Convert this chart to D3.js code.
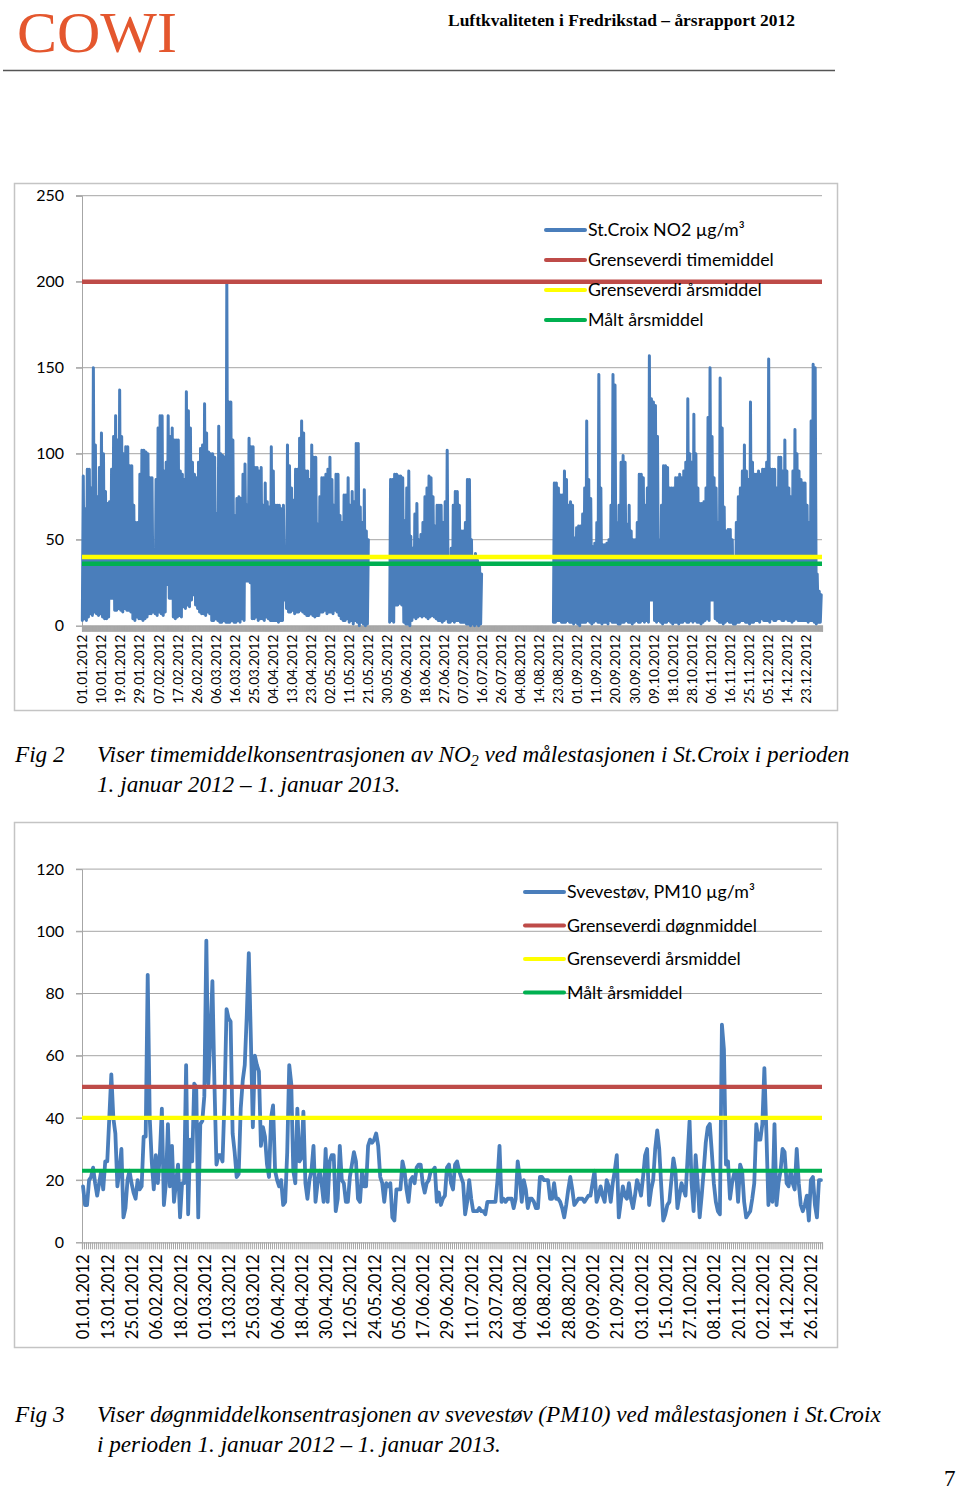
<!DOCTYPE html>
<html><head><meta charset="utf-8">
<script src="https://cdn.jsdelivr.net/npm/d3@7/dist/d3.min.js"></script>
<style>
body{margin:0;background:#fff;}
svg text{font-family:Lato,"Open Sans",sans-serif;fill:#000;}
</style></head><body>
<svg id="page" width="960" height="1490"></svg>
<script>
// ---------- DATA ----------
// Fig 2: NO2 hourly, summarised per day as daily maximum and daily minimum (µg/m³), null = no data
const no2DailyMax = [
87,68,91,91,80,150,105,75,92,
112,100,78,71,72,91,110,122,108,137,
110,100,104,104,93,93,70,60,60,88,
102,102,101,100,86,86,30,85,115,122,
122,90,95,122,110,115,108,108,108,90,
88,85,136,125,115,95,88,86,95,103,
105,129,112,101,100,100,98,65,116,100,
99,98,199,130,130,108,64,74,75,74,
88,94,70,109,104,104,92,92,90,92,
70,83,72,69,104,90,70,70,70,68,
70,37,105,93,80,73,91,91,109,119,
112,90,90,85,105,98,98,59,75,86,
86,88,91,98,85,70,88,88,64,60,
76,76,86,70,78,72,106,106,69,60,
79,55,50,
null,null,null,null,null,null,null,null,null,null,
85,85,88,88,87,87,86,
61,80,90,52,45,65,71,50,53,60,
75,80,87,86,75,58,70,70,70,60,
72,102,38,45,70,78,78,70,55,55,
60,85,85,50,40,42,38,35,30,
null,null,null,null,null,null,null,null,null,null,
null,null,null,null,null,null,null,null,null,null,
null,null,null,null,null,null,null,null,null,null,
null,null,null,null,null,
83,83,80,76,76,90,
85,70,72,70,51,57,58,58,65,80,
119,85,74,46,48,60,146,80,47,47,
48,50,70,146,140,60,70,95,99,95,
59,70,55,50,50,60,88,88,86,70,
80,157,132,130,128,110,50,70,93,93,
92,80,80,80,86,86,88,86,90,95,
132,100,95,123,100,80,71,71,72,80,
121,150,110,86,80,60,144,115,69,55,
56,56,50,40,60,75,80,90,105,90,
85,130,95,88,88,90,88,91,91,95,
155,91,91,91,80,98,98,90,108,90,
80,75,90,114,100,90,85,83,83,70,
60,119,152,150,30,20,18
];
const no2DailyMin = [
3,4,3,5,7,6,8,7,6,
7,5,4,4,5,16,16,9,9,10,
9,8,10,9,9,8,4,3,5,4,
4,3,4,5,7,7,8,7,6,8,
7,6,8,24,16,16,5,4,5,6,
5,11,10,12,11,15,18,12,10,8,
7,7,6,8,7,3,3,4,3,2,
2,3,2,2,2,3,2,2,3,2,
4,3,26,26,25,4,4,5,3,4,
4,3,5,4,3,3,3,3,2,3,
3,15,10,8,8,9,7,8,8,9,
8,7,6,6,7,6,5,6,6,8,
8,9,7,8,8,7,9,8,6,4,
3,3,4,2,3,1,3,2,0,2,
1,0,1,
null,null,null,null,null,null,null,null,null,null,
2,3,2,12,12,13,12,
2,1,1,0,3,5,4,5,6,5,
6,5,4,5,6,5,4,3,3,2,
3,4,2,2,3,2,3,3,2,2,
2,1,1,0,1,0,1,0,1,
null,null,null,null,null,null,null,null,null,null,
null,null,null,null,null,null,null,null,null,null,
null,null,null,null,null,null,null,null,null,null,
null,null,null,null,null,
2,2,3,3,2,2,
2,3,2,2,1,2,1,0,2,2,
2,3,2,1,2,3,2,2,1,2,
2,1,3,2,2,2,1,1,2,2,
3,2,2,1,2,3,2,2,3,2,
3,2,15,15,3,2,3,2,1,2,
2,3,2,1,2,2,1,2,2,3,
2,2,3,2,3,2,2,1,2,3,
4,3,15,15,4,3,2,2,1,2,
3,2,2,1,1,2,2,3,3,2,
2,1,2,2,3,3,2,4,3,3,
3,2,4,3,3,4,4,3,3,4,
3,3,2,3,4,3,3,3,3,3,
2,3,3,2,1,2,2
];
const no2Ticks = [0,50,100,150,200,250];
const no2Labels = ["01.01.2012","10.01.2012","19.01.2012","29.01.2012","07.02.2012","17.02.2012","26.02.2012","06.03.2012","16.03.2012","25.03.2012","04.04.2012","13.04.2012","23.04.2012","02.05.2012","11.05.2012","21.05.2012","30.05.2012","09.06.2012","18.06.2012","27.06.2012","07.07.2012","16.07.2012","26.07.2012","04.08.2012","14.08.2012","23.08.2012","01.09.2012","11.09.2012","20.09.2012","30.09.2012","09.10.2012","18.10.2012","28.10.2012","06.11.2012","16.11.2012","25.11.2012","05.12.2012","14.12.2012","23.12.2012"];
const no2LabelStepHours = 226;
const no2HoursInYear = 8784;
const no2Legend = ["St.Croix NO2 µg/m³","Grenseverdi timemiddel","Grenseverdi årsmiddel","Målt årsmiddel"];
const no2RefLines = [200, 40, 36]; // timemiddel limit, årsmiddel limit, measured annual mean

// Fig 3: PM10 daily means (µg/m³)
const pm10Daily = [
18,12,12,20,21,24,19,15,19,23,
17,26,26,40,54,40,35,18,23,30,
8,11,20,23,19,16,14,20,17,18,
34,34,86,40,26,17,28,19,28,43,
12,19,38,18,31,13,19,25,8,19,
19,57,9,33,26,51,50,8,38,39,
47,97,51,66,84,51,25,28,28,26,
46,75,72,71,35,29,21,22,43,52,
57,73,93,66,37,60,57,55,31,37,
34,25,21,40,44,23,20,18,20,12,
13,29,57,51,23,19,43,26,27,42,
19,14,20,23,31,13,19,
23,19,13,30,13,26,28,28,10,14,
31,20,19,13,13,21,25,29,26,14,
13,23,18,18,31,33,32,33,35,31,
21,19,13,19,18,19,8,7,17,17,
17,26,23,17,13,20,21,19,24,25,
25,19,16,19,20,23,23,24,13,16,
12,14,15,24,25,19,17,25,26,23,
21,19,9,13,20,14,10,10,10,11,
10,10,9,13,13,13,13,13,20,31,
13,14,13,14,14,14,11,14,26,21,
13,20,17,11,14,14,13,11,11,21,
21,20,20,20,14,14,19,14,14,13,11,
8,12,17,21,17,12,13,14,14,14,
13,14,15,15,19,23,13,15,18,15,
13,20,18,13,19,23,28,8,13,18,
15,14,19,14,11,15,20,18,15,21,
28,30,12,17,20,30,36,30,18,7,
9,12,13,20,27,23,11,15,19,17,
15,27,39,19,10,28,19,8,15,23,
32,37,38,29,19,13,10,9,70,62,
25,26,14,19,22,23,13,25,23,13,
8,9,10,14,19,38,33,33,38,56,
35,12,23,13,38,12,19,23,30,29,
19,18,23,19,17,30,19,12,10,12,
15,7,20,21,12,8,20,20
];
const pm10Ticks = [0,20,40,60,80,100,120];
const pm10Labels = ["01.01.2012","13.01.2012","25.01.2012","06.02.2012","18.02.2012","01.03.2012","13.03.2012","25.03.2012","06.04.2012","18.04.2012","30.04.2012","12.05.2012","24.05.2012","05.06.2012","17.06.2012","29.06.2012","11.07.2012","23.07.2012","04.08.2012","16.08.2012","28.08.2012","09.09.2012","21.09.2012","03.10.2012","15.10.2012","27.10.2012","08.11.2012","20.11.2012","02.12.2012","14.12.2012","26.12.2012"];
const pm10LabelStepDays = 12;
const pm10Days = 366;
const pm10Legend = ["Svevestøv, PM10 µg/m³","Grenseverdi døgnmiddel","Grenseverdi årsmiddel","Målt årsmiddel"];
const pm10RefLines = [50, 40, 23];

const seriesColors = ["#4a7ebb","#be4b48","#ffff00","#00b050"];

// ---------- PAGE ----------
const svg = d3.select("#page");
const GRID = "#a6a6a6";

svg.append("text").attr("x",17).attr("y",52)
  .style("font-family","'Liberation Serif',serif").style("fill","#e4572e")
  .attr("font-size",58).attr("textLength",160).attr("lengthAdjust","spacingAndGlyphs").text("COWI");
svg.append("text").attr("x",448).attr("y",26)
  .style("font-family","'Liberation Serif',serif").style("font-weight","bold")
  .attr("font-size",16.5).attr("textLength",347).attr("lengthAdjust","spacingAndGlyphs")
  .text("Luftkvaliteten i Fredrikstad – årsrapport 2012");
svg.append("line").attr("x1",3).attr("x2",835).attr("y1",70.5).attr("y2",70.5)
  .attr("stroke","#555").attr("stroke-width",1.5);

function chart(cfg){
  const g = svg.append("g");
  g.append("rect").attr("x",cfg.box[0]+0.5).attr("y",cfg.box[1]+0.5)
    .attr("width",cfg.box[2]).attr("height",cfg.box[3])
    .attr("fill","none").attr("stroke","#c4c4c4").attr("stroke-width",1.5);
  const x = cfg.x, y = cfg.y;
  const [x0,x1] = x.range();
  // gridlines
  g.append("g").selectAll("line").data(cfg.ticks.filter(t=>t>0)).join("line")
    .attr("x1",x0-6).attr("x2",x1).attr("y1",d=>y(d)).attr("y2",d=>y(d))
    .attr("stroke",GRID).attr("stroke-width",1);
  // y axis
  const ya = g.append("g").attr("transform",`translate(${x0},0)`)
    .call(d3.axisLeft(y).tickValues(cfg.ticks).tickSize(6).tickPadding(12).tickFormat(d3.format("d")));
  ya.select(".domain").attr("stroke",GRID);
  ya.selectAll(".tick line").attr("stroke",GRID);
  ya.selectAll("text").style("font-family","Lato").attr("font-size",16).style("fill","#000");
  // x axis ticks band
  const xa = g.append("g").attr("transform",`translate(0,${y(0)})`)
    .call(d3.axisBottom(x).tickValues(cfg.minorTicks).tickSize(cfg.tickLen).tickFormat(""));
  xa.select(".domain").attr("stroke",GRID).attr("stroke-width",1.2);
  xa.selectAll(".tick line").attr("stroke",cfg.tickColor).attr("stroke-width",cfg.tickWidth);
  // labels
  const la = g.append("g").attr("transform",`translate(0,${y(0)})`)
    .call(d3.axisBottom(x).tickValues(cfg.labelPos).tickSize(0).tickFormat((d,i)=>cfg.labels[i]));
  la.select(".domain").remove();
  la.selectAll("text").attr("transform","rotate(-90)").attr("text-anchor","end")
    .attr("x",-cfg.labelOffset).attr("y",0).attr("dy","0.36em")
    .style("font-family","Lato").attr("font-size",cfg.labelSize).style("fill","#000");
  // series line
  g.append("path").datum(cfg.points)
    .attr("d",d3.line().defined(p=>p!=null).x(p=>x(p.t)).y(p=>y(p.v)))
    .attr("fill","none").attr("stroke",seriesColors[0]).attr("stroke-width",cfg.seriesWidth)
    .attr("stroke-linejoin","round").attr("stroke-linecap","round");
  // reference lines
  g.append("g").selectAll("line").data(cfg.refs).join("line")
    .attr("x1",x0).attr("x2",x1).attr("y1",d=>y(d)).attr("y2",d=>y(d))
    .attr("stroke",(d,i)=>seriesColors[i+1]).attr("stroke-width",cfg.refWidth);
  // legend
  const lg = g.append("g");
  cfg.legend.forEach((txt,i)=>{
    const ly = cfg.legendY + i*cfg.legendStep;
    lg.append("line").attr("x1",cfg.legendX).attr("x2",cfg.legendX+39).attr("y1",ly).attr("y2",ly)
      .attr("stroke",seriesColors[i]).attr("stroke-width",4).attr("stroke-linecap","round");
    lg.append("text").attr("x",cfg.legendX+42).attr("y",ly).attr("dy","0.36em")
      .style("font-family","Lato").attr("font-size",cfg.legendSize).text(txt);
  });
}

// Fig 2 chart
const no2Points = [];
no2DailyMax.forEach((mx,i)=>{
  const mn = no2DailyMin[i];
  if(mx==null){ no2Points.push(null); return; }
  no2Points.push({t:i*24+4, v:mn});
  no2Points.push({t:i*24+15, v:mx});
});
chart({
  box:[14,183,823,527],
  x: d3.scaleLinear().domain([0,no2HoursInYear]).range([82,822]),
  y: d3.scaleLinear().domain([0,250]).range([625.7,195.7]),
  ticks: no2Ticks,
  minorTicks: d3.range(0,no2HoursInYear+1,6),
  tickLen:6, tickColor:"#a6a6a6", tickWidth:1,
  labelPos: no2Labels.map((d,i)=>i*no2LabelStepHours),
  labels: no2Labels, labelOffset:9, labelSize:13.5,
  points: no2Points, seriesWidth:3,
  refs: no2RefLines, refWidth:4.5,
  legend: no2Legend, legendX:546, legendY:230, legendStep:30, legendSize:17.8
});

// Fig 3 chart
chart({
  box:[14,822,823,525],
  x: d3.scaleLinear().domain([0,pm10Days]).range([82,822]),
  y: d3.scaleLinear().domain([0,120]).range([1242.3,869.1]),
  ticks: pm10Ticks,
  minorTicks: d3.range(0,pm10Days+1),
  tickLen:7, tickColor:"#a6a6a6", tickWidth:1,
  labelPos: pm10Labels.map((d,i)=>i*pm10LabelStepDays+0.5),
  labels: pm10Labels, labelOffset:12, labelSize:16.6,
  points: pm10Daily.map((v,i)=>({t:i+0.5, v:v})), seriesWidth:3.8,
  refs: pm10RefLines, refWidth:4.2,
  legend: pm10Legend, legendX:525, legendY:892, legendStep:33.5, legendSize:17.8
});

// captions
function caption(fig, y, line1Builder, line2, size){
  const f = "'Liberation Serif',serif";
  svg.append("text").attr("x",15).attr("y",y).style("font-family",f).style("font-style","italic")
    .attr("font-size",size).text(fig);
  const t1 = svg.append("text").attr("x",97).attr("y",y).style("font-family",f).style("font-style","italic")
    .attr("font-size",size);
  line1Builder(t1);
  svg.append("text").attr("x",97).attr("y",y+30).style("font-family",f).style("font-style","italic")
    .attr("font-size",size).text(line2);
}
caption("Fig 2", 762, t=>{
  t.append("tspan").text("Viser timemiddelkonsentrasjonen av NO");
  t.append("tspan").attr("font-size",16).attr("dy",4).text("2");
  t.append("tspan").attr("dy",-4).text(" ved målestasjonen i St.Croix i perioden");
}, "1. januar 2012 – 1. januar 2013.", 23.2);
caption("Fig 3", 1422, t=>{
  t.text("Viser døgnmiddelkonsentrasjonen av svevestøv (PM10) ved målestasjonen i St.Croix");
}, "i perioden  1. januar 2012 – 1. januar 2013.", 23.2);
svg.append("text").attr("x",944).attr("y",1486).style("font-family","'Liberation Serif',serif")
  .attr("font-size",23).text("7");
</script>
</body></html>
